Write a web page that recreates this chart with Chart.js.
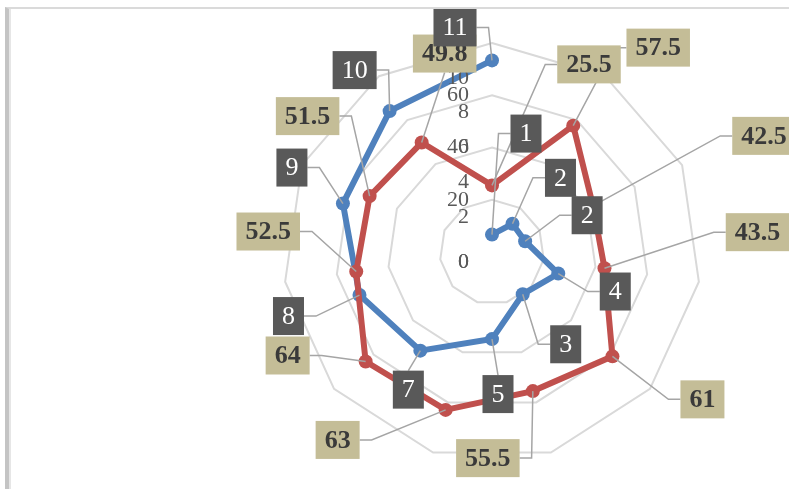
<!DOCTYPE html>
<html>
<head>
<meta charset="utf-8">
<script src="https://cdn.jsdelivr.net/npm/chart.js@4/dist/chart.umd.min.js"></script>
<style>
  html, body { margin: 0; padding: 0; background: #ffffff; }
  #wrap { position: relative; width: 789px; height: 489px; overflow: hidden; }
  #chart { position: absolute; left: 0; top: 0; }
  #frame {
    position: absolute; left: 5px; top: 7px; right: 0; bottom: 0;
    border-top: 2px solid #dadada; border-left: 4px solid #c4c4c4;
    box-shadow: inset 2px 0 0 #e6e6e6; pointer-events: none;
  }
</style>
</head>
<body>
<div id="wrap">
  <canvas id="chart" width="789" height="489"></canvas>
  <div id="frame"></div>
</div>
<script>
// Categories for each radial axis (labels are not shown on the chart)
const redCategories = ['C1', 'C2', 'C3', 'C4', 'C5', 'C6', 'C7', 'C8', 'C9', 'C10', 'C11'];
const blueCategories = ['S1', 'S2', 'S3', 'S4', 'S5', 'S6', 'S7', 'S8', 'S9', 'S10'];

// Series values
const redValues = [25.5, 57.5, 42.5, 43.5, 61, 55.5, 63, 64, 52.5, 51.5, 49.8];
const blueValues = [1, 2, 2, 4, 3, 5, 7, 8, 9, 10, 11];

// Axis tick settings
const redTicks = { min: 0, max: 80, step: 20 };
const blueTicks = { min: 0, max: 12, step: 2 };

// Where each value box sits relative to its point (dx, dy)
const redLabelOffsets = [
  [97, -121], [85, -78], [171, -70], [153, -36], [90, 43], [-45, 67],
  [-108, 30], [-78, -6], [-88, -40], [-62, -80], [23, -89]
];
const blueLabelOffsets = [
  [34, -101], [48, -46], [62, -26], [57, 18], [43, 50], [6, 55],
  [-12, 39], [-71, 21], [-51, -36], [-35, -41], [-37, -33]
];

const RED = '#C0504D';
const BLUE = '#4F81BD';
const SERIF = '"Liberation Serif", "Times New Roman", serif';

// Draws the tick values of both radial axes, left of the vertical axis
const tickTextPlugin = {
  id: 'tickText',
  afterDatasetsDraw(chart) {
    const ctx = chart.ctx;
    ctx.save();
    ctx.font = '22px ' + SERIF;
    ctx.fillStyle = '#595959';
    ctx.textAlign = 'right';
    ctx.textBaseline = 'middle';
    ['r', 'r2'].forEach(id => {
      const sc = chart.scales[id];
      sc.ticks.forEach(t => {
        const d = sc.getDistanceFromCenterForValue(t.value);
        const y = t.value === 0 ? sc.yCenter + 10 : sc.yCenter - d;
        ctx.fillText(String(t.value), sc.xCenter - 23, y);
      });
    });
    ctx.restore();
  }
};

// Value boxes with leader lines
function boxGeometry(ctx, text, pt, off) {
  const w = ctx.measureText(text).width + 18;
  const h = 38;
  const cx = pt.x + off[0], cy = pt.y + off[1];
  return { x: cx - w / 2, y: cy - h / 2, w, h, cx, cy };
}

const valueBoxPlugin = {
  id: 'valueBoxes',
  afterDatasetsDraw(chart) {
    const ctx = chart.ctx;
    const sets = [
      { idx: 0, values: redValues, offs: redLabelOffsets, font: 'bold 26px ' + SERIF, fill: '#C4BD97', color: '#3a3a3a' },
      { idx: 1, values: blueValues, offs: blueLabelOffsets, font: '26px ' + SERIF, fill: '#595959', color: '#ffffff' }
    ];
    ctx.save();
    // leader lines first, so boxes cover them
    ctx.strokeStyle = '#a5a5a5';
    ctx.lineWidth = 1.5;
    sets.forEach(s => {
      ctx.font = s.font;
      const pts = chart.getDatasetMeta(s.idx).data;
      s.values.forEach((v, i) => {
        const pt = pts[i];
        const b = boxGeometry(ctx, String(v), pt, s.offs[i]);
        ctx.beginPath();
        if (Math.abs(b.cx - pt.x) > b.w / 2 + 4) {
          const ex = b.cx > pt.x ? b.x : b.x + b.w;
          const bend = b.cx > pt.x ? ex - 12 : ex + 12;
          ctx.moveTo(ex, b.cy);
          ctx.lineTo(bend, b.cy);
          ctx.lineTo(pt.x, pt.y);
        } else {
          const ey = b.cy > pt.y ? b.y : b.y + b.h;
          ctx.moveTo(b.cx, ey);
          ctx.lineTo(pt.x, pt.y);
        }
        ctx.stroke();
      });
    });
    sets.forEach(s => {
      ctx.font = s.font;
      ctx.textAlign = 'center';
      ctx.textBaseline = 'middle';
      const pts = chart.getDatasetMeta(s.idx).data;
      s.values.forEach((v, i) => {
        const b = boxGeometry(ctx, String(v), pts[i], s.offs[i]);
        ctx.fillStyle = s.fill;
        ctx.fillRect(b.x, b.y, b.w, b.h);
        ctx.fillStyle = s.color;
        ctx.fillText(String(v), b.cx, b.cy + 1);
      });
    });
    ctx.restore();
  }
};

new Chart(document.getElementById('chart'), {
  type: 'radar',
  data: {
    labels: redCategories,
    datasets: [
      {
        data: redValues,
        rAxisID: 'r',
        borderColor: RED,
        backgroundColor: RED,
        pointBackgroundColor: RED,
        pointBorderColor: RED,
        borderWidth: 6,
        pointRadius: 7,
        pointBorderWidth: 0,
        fill: false
      },
      {
        data: blueValues,
        rAxisID: 'r2',
        borderColor: BLUE,
        backgroundColor: BLUE,
        pointBackgroundColor: BLUE,
        pointBorderColor: BLUE,
        borderWidth: 6,
        pointRadius: 7,
        pointBorderWidth: 0,
        fill: false
      }
    ]
  },
  options: {
    responsive: false,
    animation: false,
    layout: { padding: { left: 283, right: 88, top: 43, bottom: 28 } },
    plugins: { legend: { display: false }, tooltip: { enabled: false } },
    elements: { line: { tension: 0 } },
    scales: {
      r: {
        type: 'radialLinear',
        labels: redCategories,
        min: redTicks.min, max: redTicks.max,
        ticks: { stepSize: redTicks.step, display: false },
        grid: { color: '#d9d9d9', lineWidth: 2, circular: false },
        angleLines: { display: false },
        pointLabels: { display: false }
      },
      r2: {
        type: 'radialLinear',
        labels: blueCategories,
        min: blueTicks.min, max: blueTicks.max,
        ticks: { stepSize: blueTicks.step, display: false },
        grid: { display: false },
        angleLines: { display: false },
        pointLabels: { display: false }
      }
    }
  },
  plugins: [tickTextPlugin, valueBoxPlugin]
});
</script>
</body>
</html>
